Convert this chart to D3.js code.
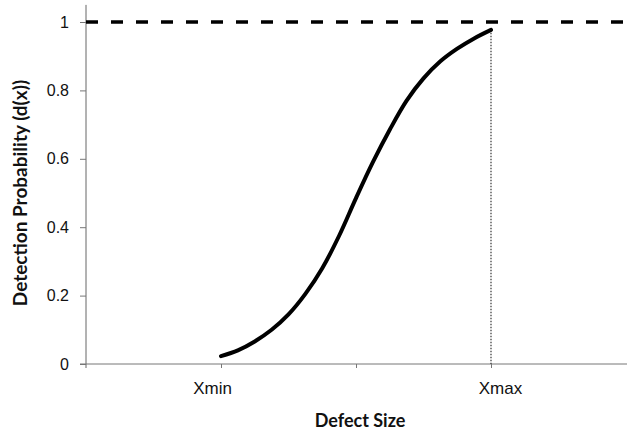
<!DOCTYPE html>
<html>
<head>
<meta charset="utf-8">
<script src="https://cdn.jsdelivr.net/npm/d3@7/dist/d3.min.js"></script>
<style>
  html, body { margin: 0; padding: 0; background: #fff; }
  svg { display: block; font-family: Lato, "Open Sans", sans-serif; }
</style>
</head>
<body>
<svg id="chart" width="627" height="432"></svg>
<script>
// Detection probability curve d(x) against defect size
const defectSize = [1.0, 1.125, 1.25, 1.375, 1.5, 1.625, 1.75, 1.875, 2.0, 2.125, 2.25, 2.375, 2.5, 2.625, 2.75, 2.875, 3.0];
const detectProb = [0.023, 0.040, 0.066, 0.100, 0.145, 0.205, 0.280, 0.375, 0.485, 0.590, 0.685, 0.770, 0.835, 0.885, 0.922, 0.952, 0.977];
const xTickValues = [1, 2, 3];
const xTickLabels = ["Xmin", "", "Xmax"];
const yTickValues = [0, 0.2, 0.4, 0.6, 0.8, 1];
const certainty = 1;       // upper bound reference line
const xMaxValue = 3;       // Xmax marker position

const svg = d3.select("#chart");
const m = { left: 86, right: 626, top: 4.9, bottom: 364 };

const x = d3.scaleLinear().domain([0, 4]).range([m.left, m.right]);
const y = d3.scaleLinear().domain([0, 1.05]).range([m.bottom, m.top]);

// y axis
const yAxis = svg.append("g")
  .attr("transform", `translate(${m.left},0)`)
  .call(d3.axisLeft(y).tickValues(yTickValues)
    .tickFormat(d => d === 0 || d === 1 ? d3.format("d")(d) : d3.format(".1f")(d))
    .tickSize(6).tickSizeOuter(0).tickPadding(11));
yAxis.select(".domain").attr("stroke", "#666").attr("d", `M0,${y(1.05)}V${m.bottom + 4}`);
yAxis.selectAll(".tick line").attr("stroke", "#777");
yAxis.selectAll(".tick text").attr("font-size", 16).attr("fill", "#111");

// x axis
const labelShift = { "Xmin": -9, "Xmax": 9 };
const xAxis = svg.append("g")
  .attr("transform", `translate(0,${m.bottom})`)
  .call(d3.axisBottom(x).tickValues(xTickValues)
    .tickFormat((d, i) => xTickLabels[i])
    .tickSize(4).tickSizeOuter(0).tickPadding(14));
xAxis.select(".domain").attr("stroke", "#777").attr("d", `M${m.left - 6},0H${m.right + 1}`);
xAxis.selectAll(".tick line").attr("stroke", "#777");
xAxis.selectAll(".tick text")
  .attr("font-size", 17).attr("fill", "#111")
  .attr("dx", function () { return labelShift[this.textContent] || 0; });

// dashed line at d(x) = 1
svg.append("line")
  .attr("x1", x(0)).attr("x2", m.right + 1)
  .attr("y1", y(certainty)).attr("y2", y(certainty))
  .attr("stroke", "#000").attr("stroke-width", 3.5)
  .attr("stroke-dasharray", "12,13");

// dotted drop line at Xmax
svg.append("line")
  .attr("x1", x(xMaxValue)).attr("x2", x(xMaxValue))
  .attr("y1", y(detectProb[detectProb.length - 1])).attr("y2", y(0))
  .attr("stroke", "#333").attr("stroke-width", 1.2)
  .attr("stroke-dasharray", "1.5,1.5");

// detection curve
const line = d3.line()
  .x((d, i) => x(defectSize[i]))
  .y(d => y(d))
  .curve(d3.curveCatmullRom.alpha(0.5));
svg.append("path")
  .datum(detectProb)
  .attr("d", line)
  .attr("fill", "none")
  .attr("stroke", "#000")
  .attr("stroke-width", 4)
  .attr("stroke-linecap", "round");

// axis titles
svg.append("text")
  .attr("x", 360).attr("y", 427)
  .attr("text-anchor", "middle")
  .attr("font-size", 18).attr("font-weight", "bold").attr("fill", "#111")
  .text("Defect Size");

svg.append("text")
  .attr("transform", "translate(20,193) rotate(-90)")
  .attr("text-anchor", "middle").attr("dy", "0.36em")
  .attr("font-size", 19).attr("font-weight", "bold").attr("fill", "#111")
  .text("Detection Probability (d(x))");
</script>
</body>
</html>
